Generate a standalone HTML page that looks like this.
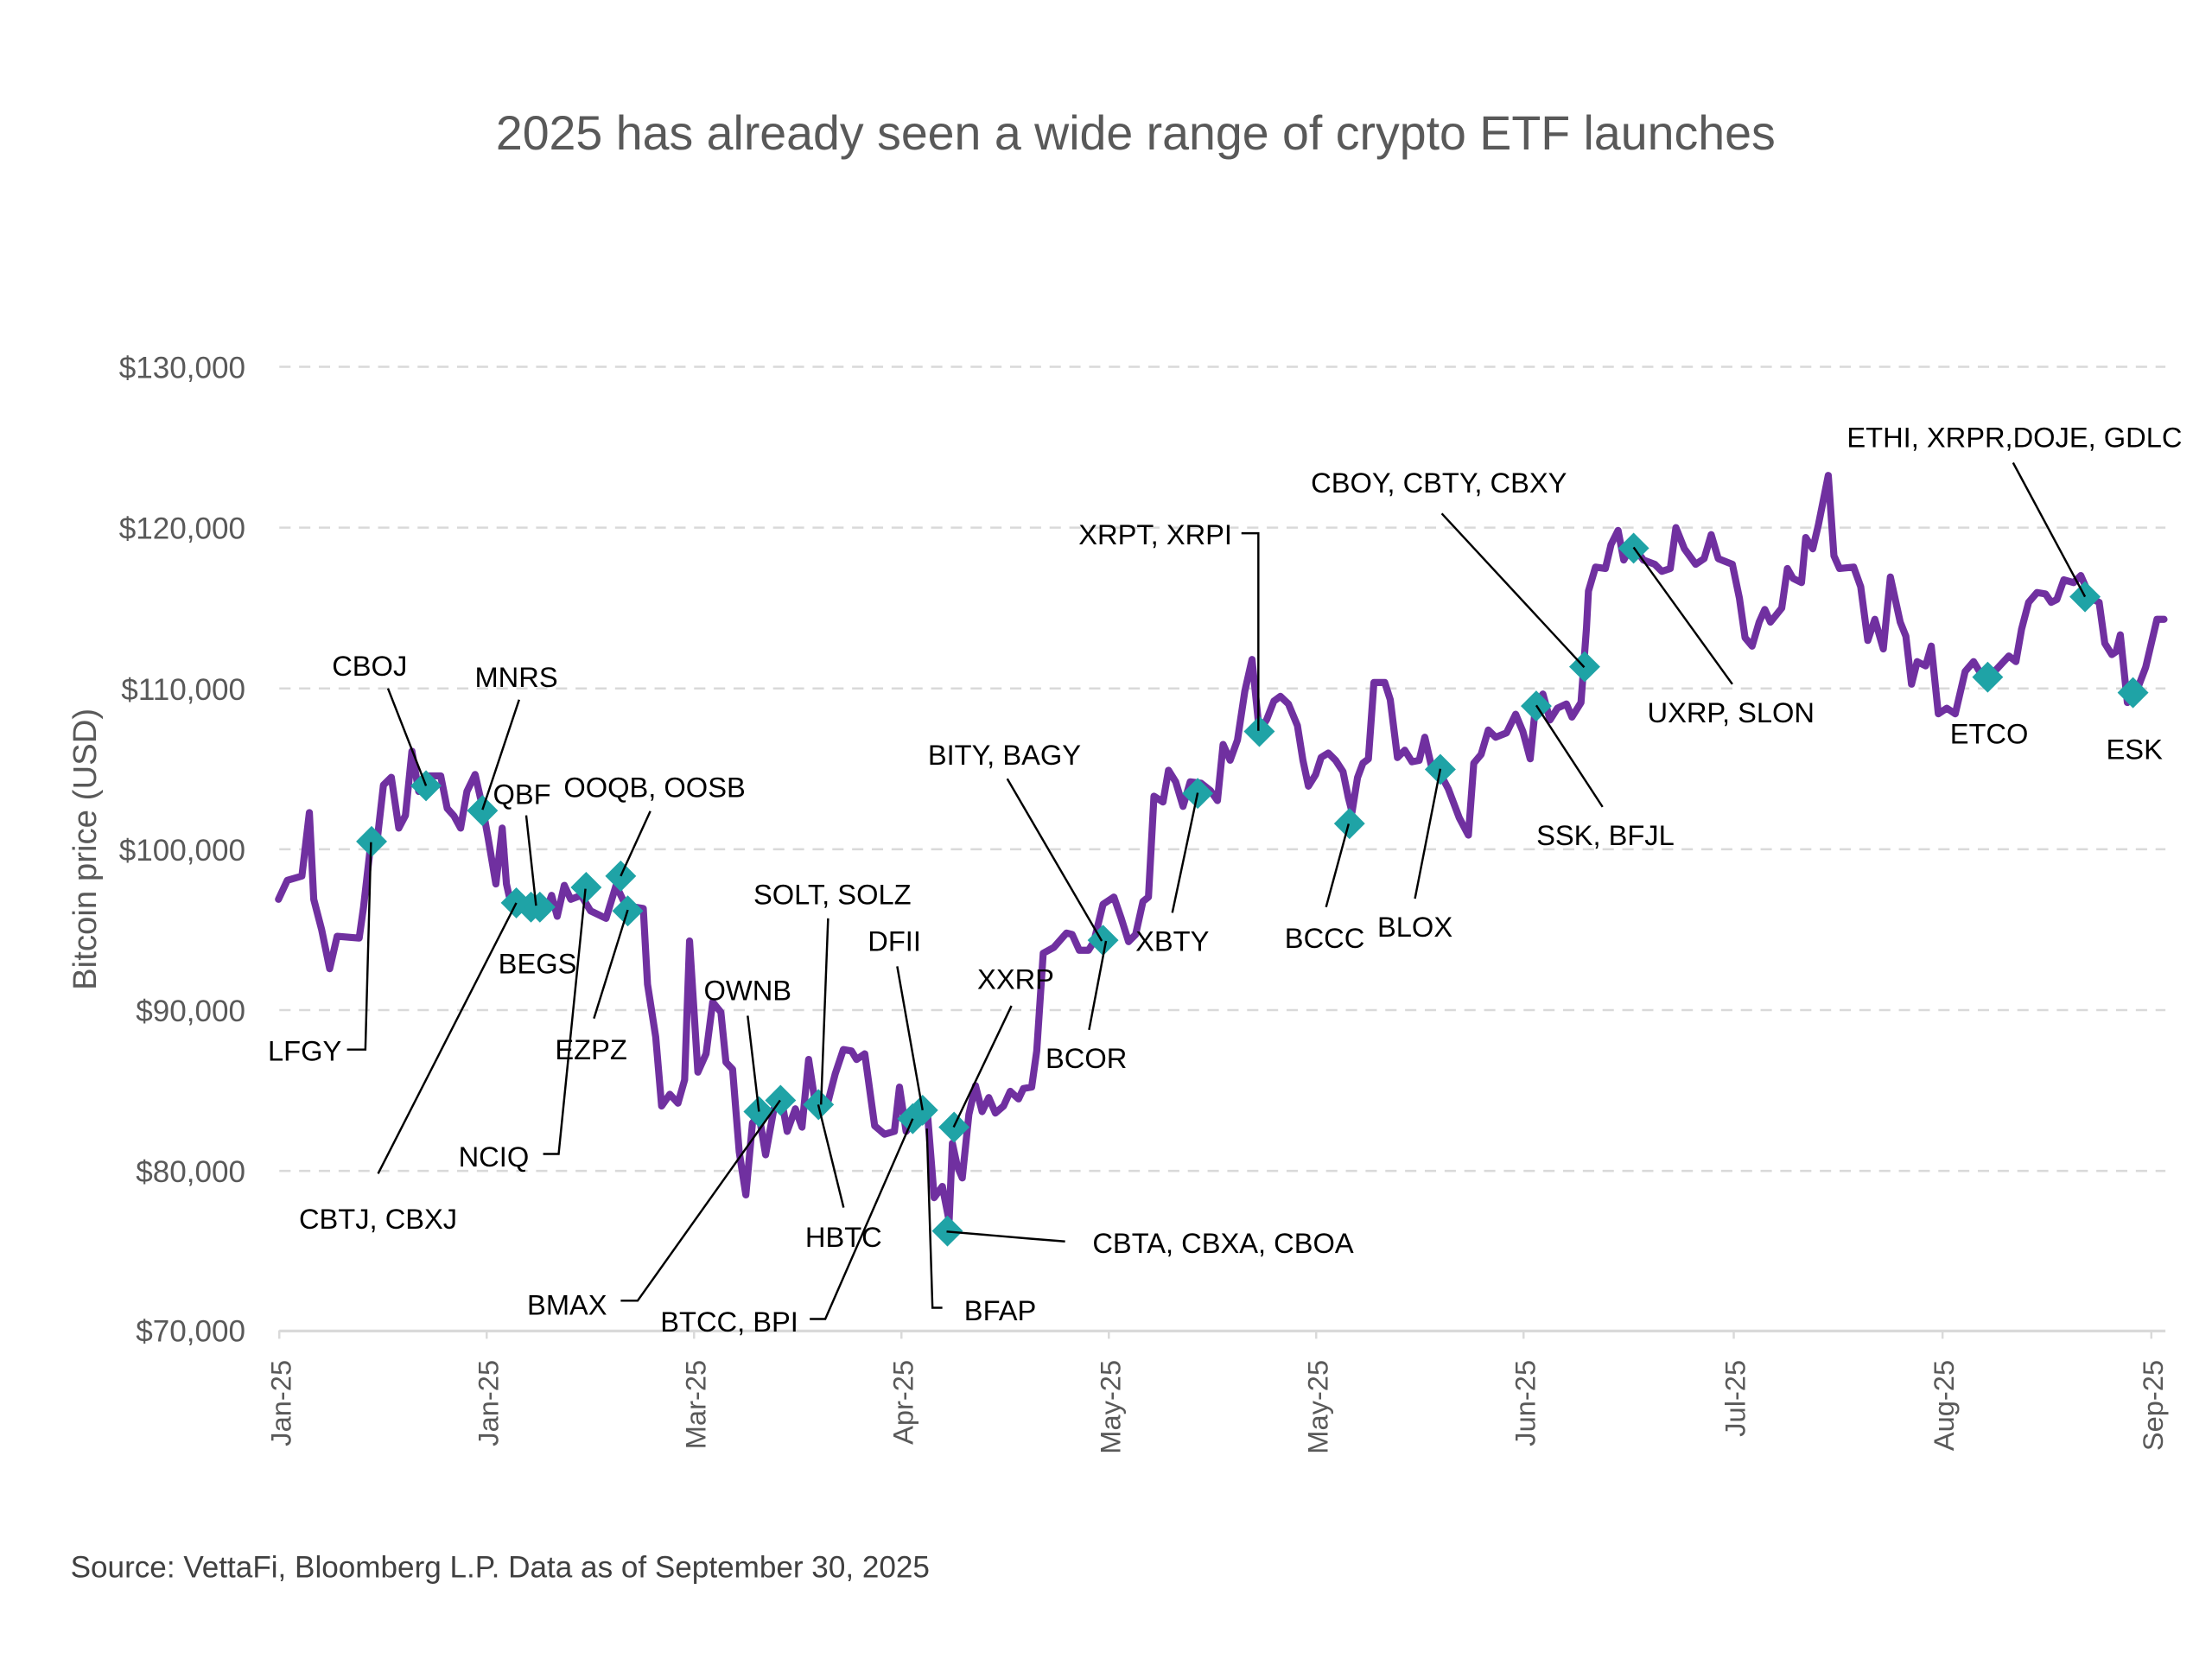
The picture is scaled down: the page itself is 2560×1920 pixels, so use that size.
<!DOCTYPE html>
<html><head><meta charset="utf-8"><style>
html,body{margin:0;padding:0;background:#fff}
svg{display:block}
text{font-family:"Liberation Sans",sans-serif}
</style></head><body>
<svg width="2560" height="1920" viewBox="0 0 1568 1176" xmlns="http://www.w3.org/2000/svg">
<rect width="1568" height="1176" fill="#fff"/>
<text x="805" y="106" text-anchor="middle" font-size="34" fill="#595959">2025 has already seen a wide range of crypto ETF launches</text>
<g stroke="#d9d9d9" stroke-width="1.5" stroke-dasharray="8,6">
<line x1="198" y1="260" x2="1535" y2="260"/><line x1="198" y1="374" x2="1535" y2="374"/><line x1="198" y1="488" x2="1535" y2="488"/><line x1="198" y1="602" x2="1535" y2="602"/><line x1="198" y1="716" x2="1535" y2="716"/><line x1="198" y1="830" x2="1535" y2="830"/>
</g>
<line x1="198" y1="943.5" x2="1535" y2="943.5" stroke="#d9d9d9" stroke-width="2"/>
<g stroke="#d9d9d9" stroke-width="1.5">
<line x1="198" y1="943" x2="198" y2="949"/><line x1="345" y1="943" x2="345" y2="949"/><line x1="492" y1="943" x2="492" y2="949"/><line x1="639" y1="943" x2="639" y2="949"/><line x1="786" y1="943" x2="786" y2="949"/><line x1="933" y1="943" x2="933" y2="949"/><line x1="1080" y1="943" x2="1080" y2="949"/><line x1="1229" y1="943" x2="1229" y2="949"/><line x1="1377" y1="943" x2="1377" y2="949"/><line x1="1525" y1="943" x2="1525" y2="949"/>
</g>
<g font-size="21.5" fill="#595959" text-anchor="end">
<text x="174" y="268">$130,000</text><text x="174" y="382">$120,000</text><text x="174" y="496">$110,000</text><text x="174" y="610">$100,000</text><text x="174" y="724">$90,000</text><text x="174" y="838">$80,000</text><text x="174" y="951">$70,000</text>
</g>
<g font-size="20" fill="#595959" text-anchor="end">
<text transform="translate(206,964) rotate(-90)">Jan-25</text>
<text transform="translate(353,964) rotate(-90)">Jan-25</text>
<text transform="translate(500,964) rotate(-90)">Mar-25</text>
<text transform="translate(647,964) rotate(-90)">Apr-25</text>
<text transform="translate(794,964) rotate(-90)">May-25</text>
<text transform="translate(941,964) rotate(-90)">May-25</text>
<text transform="translate(1088,964) rotate(-90)">Jun-25</text>
<text transform="translate(1237,964) rotate(-90)">Jul-25</text>
<text transform="translate(1385,964) rotate(-90)">Aug-25</text>
<text transform="translate(1533,964) rotate(-90)">Sep-25</text>
</g>
<text transform="translate(68,602) rotate(-90)" text-anchor="middle" font-size="23.5" fill="#595959">Bitcoin price (USD)</text>
<text x="50" y="1118" font-size="21.5" fill="#404040">Source: VettaFi, Bloomberg L.P. Data as of September 30, 2025</text>

<polyline fill="none" stroke="#7030a0" stroke-width="5" stroke-linejoin="round" stroke-linecap="round" points="
197.4,637.5 203.7,624 214,621 219.3,576 222.4,637.5 228,659 233.7,686.7 239,663.7 254.6,665 257.7,643 263,596.5 267,599 271.8,556.5 277.4,551 282.7,587 287.4,578 292,532.5 296.8,561 304.6,550 312.4,550 317,573 321.8,578.4 326.5,587 331,561 336.8,549 342,572 346,594 351.5,626.6 356,587 359,626.6 362,640 375,642 387,645.7 391,634.7 395,649.5 400,627.6 404.6,637.5 412,634.7 418.6,645.7 429.6,651 436.7,627.6 443.6,642 456,644 459,697.7 464.8,735 469,784 474.8,775.7 480.6,782 485.3,765.5 488.8,667 494.7,760 500.5,747 505.2,710.4 511,717.5 514.6,753 519.3,758 524,816.5 528.7,847 533.4,796 538,790 542.7,818.6 548.6,786 553.3,775.7 558,802 563.8,786 568.5,799 573.2,751 577.9,782 582.6,784 587.2,780 592,761.4 597.8,744 603.6,745 607.2,751 613,747 620,798 627,804 634,802 637.6,770.6 642.3,802 650.5,790 657.5,790 662.2,849 668,841 672.8,865.5 675.1,810.4 678.6,826.7 682.1,835 686.8,790 691.5,769.6 696.2,788 700.9,778 705.6,789 711.4,784 716.1,773.6 722,779 725.5,771.6 731.3,770.6 734.9,745 739.5,675.7 747,671.6 756,661.4 760,662.4 765.1,673.6 771.6,673.6 775.4,667.5 781.9,641 789.6,635.9 794.8,651 800,667.5 805,662.4 810.2,639 814.1,635.9 818,564.4 824.4,568.5 828.3,546 833.4,554.2 838.6,571.6 843.7,554.2 851.4,555.2 857.9,560.3 863,567.5 867,527.7 872,538.9 877.2,524.6 882.4,490 887.5,467.5 892.7,518.5 897.8,510.3 903,497 907.6,493.6 913.3,499 919.7,514.4 923.6,539 927.5,557.3 932.6,549.1 936.5,536.9 941.6,533.8 946.8,539 952,547 955.8,565.5 958.4,575.7 962.3,551.2 966.1,541 970,538 973.9,483.8 981.6,483.8 985.5,496 990.6,537 995.8,531.8 1000.9,540 1006,539 1010,522.6 1015.1,545 1020.2,547 1026.7,559.3 1034.4,579.7 1040.9,592 1044.7,541 1049.9,534.8 1055,517.5 1060.2,522.6 1067.9,519.5 1074.4,506.3 1079.5,518.5 1084.7,537.9 1088.5,500 1093.7,492 1098.8,510.3 1104,502 1110.4,499 1114.3,508.3 1120.7,498 1124.6,445 1126,419 1131,402 1138,403 1142,386 1147,376 1151,397 1157,386 1165,397 1173,400 1178,405 1184,403 1188,374 1194,389 1202,400 1208,396 1213,379 1218,396 1228,400 1233,424 1237,452 1242,458 1247,441 1251,432 1255,441 1263,431 1267,403 1271,410 1277,413 1280,381 1285,389 1289,372 1296,337 1300,394 1304,403 1314,402 1319,416 1324,454 1329,439 1335,460 1340,409 1347,441 1351,451 1355,485 1359,469 1365,472 1369,458 1374,506 1380,502 1386,506 1393,476 1399,469 1405,479 1411,479 1424,465 1429,469 1433,446 1438,427 1444,420 1450,421 1454,427 1458,425 1463,411 1470,413 1475,408 1482,424 1488,427 1492,456 1497,464 1500,462 1503,450 1508,498 1513,494 1521,473 1529,439 1534,439"/>

<g fill="#1fa3a6">
<path d="M0,-11 L11,0 L0,11 L-11,0Z" transform="translate(263.4,596.5)"/>
<path d="M0,-11 L11,0 L0,11 L-11,0Z" transform="translate(302,557)"/>
<path d="M0,-11 L11,0 L0,11 L-11,0Z" transform="translate(342,574.6)"/>
<path d="M0,-11 L11,0 L0,11 L-11,0Z" transform="translate(366,640)"/>
<path d="M0,-11 L11,0 L0,11 L-11,0Z" transform="translate(376.4,643)"/>
<path d="M0,-11 L11,0 L0,11 L-11,0Z" transform="translate(382.7,643)"/>
<path d="M0,-11 L11,0 L0,11 L-11,0Z" transform="translate(415.5,629)"/>
<path d="M0,-11 L11,0 L0,11 L-11,0Z" transform="translate(440,621)"/>
<path d="M0,-11 L11,0 L0,11 L-11,0Z" transform="translate(445,645.7)"/>
<path d="M0,-11 L11,0 L0,11 L-11,0Z" transform="translate(538,788)"/>
<path d="M0,-11 L11,0 L0,11 L-11,0Z" transform="translate(553.3,780)"/>
<path d="M0,-11 L11,0 L0,11 L-11,0Z" transform="translate(580.2,783)"/>
<path d="M0,-11 L11,0 L0,11 L-11,0Z" transform="translate(647,793)"/>
<path d="M0,-11 L11,0 L0,11 L-11,0Z" transform="translate(654,787)"/>
<path d="M0,-11 L11,0 L0,11 L-11,0Z" transform="translate(676.3,799)"/>
<path d="M0,-11 L11,0 L0,11 L-11,0Z" transform="translate(671.6,872.6)"/>
<path d="M0,-11 L11,0 L0,11 L-11,0Z" transform="translate(781.9,666.5)"/>
<path d="M0,-11 L11,0 L0,11 L-11,0Z" transform="translate(849,562.4)"/>
<path d="M0,-11 L11,0 L0,11 L-11,0Z" transform="translate(892.7,518.5)"/>
<path d="M0,-11 L11,0 L0,11 L-11,0Z" transform="translate(956.6,583.8)"/>
<path d="M0,-11 L11,0 L0,11 L-11,0Z" transform="translate(1021,545.4)"/>
<path d="M0,-11 L11,0 L0,11 L-11,0Z" transform="translate(1089,500.5)"/>
<path d="M0,-11 L11,0 L0,11 L-11,0Z" transform="translate(1123.3,472.6)"/>
<path d="M0,-11 L11,0 L0,11 L-11,0Z" transform="translate(1158,388.6)"/>
<path d="M0,-11 L11,0 L0,11 L-11,0Z" transform="translate(1409,480)"/>
<path d="M0,-11 L11,0 L0,11 L-11,0Z" transform="translate(1478,423)"/>
<path d="M0,-11 L11,0 L0,11 L-11,0Z" transform="translate(1512,491)"/>
</g>

<g stroke="#000" stroke-width="1.5" fill="none">
<polyline points="275,488 302,557"/>
<polyline points="368,496 342,574"/>
<polyline points="246,744 259,744 263,597"/>
<polyline points="373,578 380,642"/>
<polyline points="461,575 440,621"/>
<polyline points="421,722 445,645"/>
<polyline points="268,832 366,640"/>
<polyline points="385,818 396,818 415,630"/>
<polyline points="440,922 452,922 553,780"/>
<polyline points="530,720 538,788"/>
<polyline points="587,651 582,783"/>
<polyline points="598,856 580,783"/>
<polyline points="636,685 654,787"/>
<polyline points="574,935 585,935 647,793"/>
<polyline points="657,800 661,927 668,927"/>
<polyline points="717,713 676,799"/>
<polyline points="755,880 730,878 671,873"/>
<polyline points="714,552 781,667"/>
<polyline points="772,730 784,667"/>
<polyline points="831,647 849,562"/>
<polyline points="880,378 892,378 892,518"/>
<polyline points="940,643 956,584"/>
<polyline points="1003,637 1021,545"/>
<polyline points="1136,572 1089,500"/>
<polyline points="1022,364 1123,473"/>
<polyline points="1228,485 1158,388"/>
<polyline points="1427,328 1478,423"/>
</g>

<g font-size="20" fill="#000" text-anchor="middle">
<text x="262" y="479">CBOJ</text>
<text x="366" y="487">MNRS</text>
<text x="216" y="752">LFGY</text>
<text x="370" y="570">QBF</text>
<text x="381" y="690">BEGS</text>
<text x="464" y="565">OOQB, OOSB</text>
<text x="419" y="751">EZPZ</text>
<text x="268" y="871">CBTJ, CBXJ</text>
<text x="350" y="827">NCIQ</text>
<text x="402" y="932">BMAX</text>
<text x="530" y="709">OWNB</text>
<text x="590" y="641">SOLT, SOLZ</text>
<text x="598" y="884">HBTC</text>
<text x="634" y="674">DFII</text>
<text x="517" y="944">BTCC, BPI</text>
<text x="709" y="936">BFAP</text>
<text x="720" y="701">XXRP</text>
<text x="867" y="888">CBTA, CBXA, CBOA</text>
<text x="712" y="542">BITY, BAGY</text>
<text x="770" y="757">BCOR</text>
<text x="831" y="674">XBTY</text>
<text x="819" y="386">XRPT, XRPI</text>
<text x="939" y="672">BCCC</text>
<text x="1003" y="664">BLOX</text>
<text x="1138" y="599">SSK, BFJL</text>
<text x="1020" y="349">CBOY, CBTY, CBXY</text>
<text x="1227" y="512">UXRP, SLON</text>
<text x="1410" y="527">ETCO</text>
<text x="1513" y="538">ESK</text>
<text x="1428" y="317">ETHI, XRPR,DOJE, GDLC</text>
</g>
</svg>
</body></html>
